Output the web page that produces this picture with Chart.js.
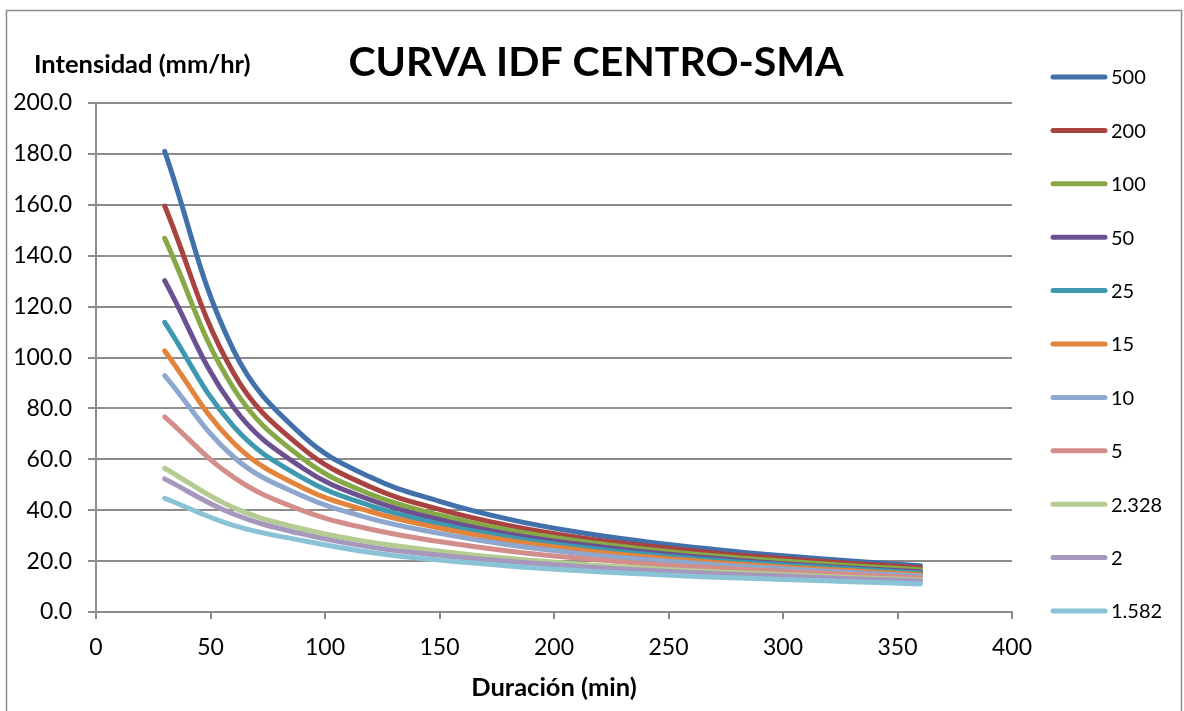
<!DOCTYPE html>
<html>
<head>
<meta charset="utf-8">
<title>CURVA IDF CENTRO-SMA</title>
<script src="https://cdn.jsdelivr.net/npm/chart.js@4.4.1/dist/chart.umd.min.js"></script>
<style>
  html, body { margin: 0; padding: 0; background: #ffffff; }
  #wrap { position: relative; width: 1184px; height: 711px; }
  canvas { display: block; }
</style>
</head>
<body>
<div id="wrap"><canvas id="idf" width="1184" height="711"></canvas></div>
<script>
// Duraciones (min)
const duraciones = [30, 60, 90, 120, 150, 180, 210, 240, 270, 300, 330, 360];

// Periodos de retorno (años)
const periodos = ['500', '200', '100', '50', '25', '15', '10', '5', '2.328', '2', '1.582'];

// Intensidades (mm/hr) por periodo de retorno
const i500   = [181.0, 103.0, 69.5, 52.9, 43.5, 36.5, 31.4, 27.6, 24.6, 22.1, 20.0, 18.2];
const i200   = [159.5,  94.0, 64.5, 49.1, 40.3, 34.0, 29.4, 26.0, 23.2, 21.0, 19.1, 17.4];
const i100   = [146.8,  88.0, 60.5, 46.2, 38.1, 32.2, 28.0, 24.7, 22.1, 20.0, 18.2, 16.6];
const i50    = [130.2,  80.5, 56.7, 44.0, 36.3, 30.7, 26.7, 23.6, 21.1, 19.0, 17.3, 15.8];
const i25    = [113.8,  73.0, 52.8, 41.7, 34.6, 29.4, 25.6, 22.7, 20.3, 18.5, 16.9, 15.3];
const i15    = [102.6,  66.5, 48.9, 39.4, 33.0, 28.1, 24.5, 21.7, 19.5, 17.7, 16.2, 14.7];
const i10    = [ 92.9,  61.0, 45.7, 36.7, 30.9, 26.4, 23.1, 20.6, 18.6, 17.0, 15.5, 14.1];
const i5     = [ 76.7,  53.0, 39.9, 32.5, 27.7, 24.0, 21.2, 19.0, 17.3, 15.9, 14.7, 13.4];
const i2_328 = [ 56.5,  41.0, 32.7, 27.4, 23.9, 21.1, 18.9, 17.2, 15.8, 14.7, 13.6, 12.6];
const i2     = [ 52.3,  38.5, 30.7, 25.5, 22.3, 19.9, 17.9, 16.4, 15.1, 14.1, 13.1, 12.2];
const i1_582 = [ 44.7,  34.0, 28.1, 23.4, 20.4, 18.1, 16.3, 14.9, 13.7, 12.8, 11.9, 11.0];

const series = [i500, i200, i100, i50, i25, i15, i10, i5, i2_328, i2, i1_582];

const colores = ['#4170AB', '#A9433F', '#87A846', '#6C5190', '#3D98B0', '#E3843C',
                 '#8DA7CF', '#D38E8C', '#B4CC91', '#A697BD', '#8AC3D6'];

// Ticks de los ejes
const xTicks = [0, 50, 100, 150, 200, 250, 300, 350, 400];
const yTicks = [0, 20, 40, 60, 80, 100, 120, 140, 160, 180, 200];

const tituloGrafico = 'CURVA IDF CENTRO-SMA';
const tituloY = 'Intensidad (mm/hr)';
const tituloX = 'Duración (min)';

const FONT = 'Lato, "Noto Sans", "DejaVu Sans", sans-serif';
const GRIS = '#8c8c8c';

const datasets = series.map((vals, i) => ({
  label: periodos[i],
  data: duraciones.map((d, k) => ({ x: d, y: vals[k] })),
  borderColor: colores[i],
  backgroundColor: colores[i],
  borderWidth: 5,
  borderCapStyle: 'round',
  borderJoinStyle: 'round',
  pointRadius: 0,
  pointHoverRadius: 0,
  tension: 0.4,
  fill: false,
  order: -i
}));

// Marco, títulos y leyenda dibujados sobre el lienzo
const decoracion = {
  id: 'decoracion',
  beforeDraw(chart) {
    const ctx = chart.ctx;
    ctx.save();
    ctx.fillStyle = '#ffffff';
    ctx.fillRect(0, 0, chart.width, chart.height);
    ctx.restore();
  },
  afterDraw(chart) {
    const ctx = chart.ctx;
    const area = chart.chartArea;
    ctx.save();

    // marco exterior
    ctx.strokeStyle = GRIS;
    ctx.lineWidth = 1.5;
    ctx.strokeRect(6.5, 10.5, 1175, 720);

    // título principal
    ctx.fillStyle = '#000000';
    ctx.textBaseline = 'middle';
    ctx.textAlign = 'center';
    ctx.font = 'bold 41px ' + FONT;
    ctx.fillText(tituloGrafico, 596, 63);

    // título del eje Y
    ctx.textAlign = 'left';
    ctx.font = 'bold 25.5px ' + FONT;
    ctx.fillText(tituloY, 34, 65);

    // título del eje X
    ctx.textAlign = 'center';
    ctx.fillText(tituloX, (area.left + area.right) / 2, 688);

    // leyenda
    ctx.font = '20px ' + FONT;
    ctx.textAlign = 'left';
    chart.data.datasets.forEach((ds, i) => {
      const y = 77 + i * 53.4;
      ctx.strokeStyle = ds.borderColor;
      ctx.lineWidth = 5;
      ctx.lineCap = 'round';
      ctx.beginPath();
      ctx.moveTo(1053, y);
      ctx.lineTo(1105, y);
      ctx.stroke();
      ctx.fillStyle = '#000000';
      ctx.fillText(ds.label, 1111, y + 1);
    });
    ctx.restore();
  }
};

function crear() {
  new Chart(document.getElementById('idf'), {
    type: 'line',
    data: { datasets },
    plugins: [decoracion],
    options: {
      responsive: false,
      devicePixelRatio: 1,
      animation: false,
      events: [],
      layout: { padding: { top: 103, right: 172, bottom: 0, left: 0 } },
      plugins: {
        legend: { display: false },
        title: { display: false },
        tooltip: { enabled: false }
      },
      scales: {
        x: {
          type: 'linear',
          min: 0,
          max: 400,
          afterFit(scale) { scale.height = 99; },
          afterBuildTicks(scale) { scale.ticks = xTicks.map(v => ({ value: v })); },
          grid: {
            drawOnChartArea: false,
            drawTicks: true,
            tickLength: 7,
            color: GRIS,
            lineWidth: 2
          },
          border: { display: true, color: GRIS, width: 2 },
          ticks: {
            color: '#000000',
            font: { family: FONT, size: 23 },
            padding: 15,
            maxRotation: 0,
            autoSkip: false
          }
        },
        y: {
          type: 'linear',
          min: 0,
          max: 200,
          afterFit(scale) { scale.width = 96; },
          afterBuildTicks(scale) { scale.ticks = yTicks.map(v => ({ value: v })); },
          grid: {
            drawOnChartArea: true,
            drawTicks: true,
            tickLength: 8,
            color: GRIS,
            lineWidth: 2
          },
          border: { display: true, color: GRIS, width: 2 },
          ticks: {
            color: '#000000',
            font: { family: FONT, size: 23 },
            padding: 16,
            autoSkip: false,
            callback: v => Number(v).toFixed(1)
          }
        }
      }
    }
  });
}

if (document.fonts && document.fonts.load) {
  Promise.all([
    document.fonts.load('23px Lato'),
    document.fonts.load('bold 23px Lato')
  ]).then(crear, crear);
} else {
  crear();
}
</script>
</body>
</html>
